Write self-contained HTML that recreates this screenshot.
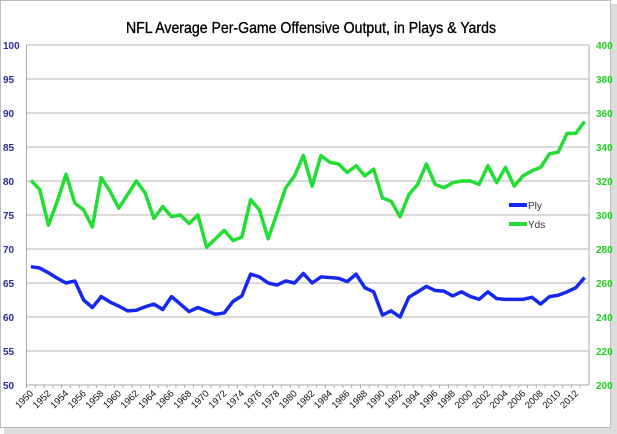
<!DOCTYPE html>
<html><head><meta charset="utf-8"><style>
body{margin:0;background:#fff;}
svg{display:block;font-family:"Liberation Sans",sans-serif;}
</style></head><body>
<svg id="chart" width="617" height="434" viewBox="0 0 617 434" xmlns="http://www.w3.org/2000/svg">
<rect x="0.5" y="0.5" width="610" height="427" fill="#fff" stroke="#bbb"/>
<rect x="611" y="4" width="6" height="428" fill="#ddd"/>
<rect x="4" y="428" width="613" height="6" fill="#ddd"/>
<text x="311" y="33" text-anchor="middle" font-size="16" textLength="370" lengthAdjust="spacingAndGlyphs" fill="#000" stroke="#000" stroke-width="0.35">NFL Average Per-Game Offensive Output, in Plays &amp; Yards</text>
<g id="grid"></g><g id="axes"></g><g id="lines"></g>
<g>
<line x1="509" y1="205" x2="527" y2="205" stroke="#1428f0" stroke-width="4"/>
<text x="528" y="209" font-size="10" fill="#333">Ply</text>
<line x1="509" y1="224" x2="527" y2="224" stroke="#22dd33" stroke-width="4"/>
<text x="528" y="228" font-size="10" fill="#333">Yds</text>
</g>
</svg>
<script>
const years = [];
for (let y = 1950; y <= 2013; y++) years.push(y);
const ply = [67.4,67.2,66.5,65.7,65.0,65.3,62.5,61.4,63.0,62.2,61.6,60.9,61.0,61.5,61.9,61.1,63.0,61.9,60.8,61.4,60.9,60.4,60.6,62.3,63.1,66.3,65.9,65.0,64.7,65.3,65.0,66.4,65.0,65.9,65.8,65.7,65.2,66.3,64.3,63.7,60.3,60.9,60.0,62.9,63.7,64.5,63.9,63.8,63.1,63.7,63.0,62.6,63.7,62.7,62.6,62.6,62.6,62.9,61.9,63.0,63.2,63.7,64.3,65.8];
const yds = [320.5,315,294,308,324,307,303,293,322,314,304,312,320,313,298,305,299,300,295,300,281,286,291,285,287,309,303,286,301,316,323,335,317,335,331,330,325,329,323,327,310,308,299,312,318,330,318,316,319,320,320,318,329,319,328,317,323,326,328,336,337,348,348,355];
const leftTicks = [50,55,60,65,70,75,80,85,90,95,100];
const rightTicks = [200,220,240,260,280,300,320,340,360,380,400];
const X0=26.5, X1=589, YT=45, YB=385;
const NS="http://www.w3.org/2000/svg";
const xScale = i => X0 + (i+0.5)*(X1-X0)/years.length;
const yL = v => YB - (v-50)/50*(YB-YT);
const yR = v => YB - (v-200)/200*(YB-YT);
function mk(tag, attrs, parent){const e=document.createElementNS(NS,tag);for(const k in attrs)e.setAttribute(k,attrs[k]);parent.appendChild(e);return e;}
const grid=document.getElementById('grid'), axes=document.getElementById('axes'), lines=document.getElementById('lines');
leftTicks.forEach(t=>{
  const y=yL(t);
  if(t>50){const g=mk('line',{x1:X0,x2:X1,y1:y,y2:y,stroke:'#c4c4c4','stroke-width':1.3},grid);
  
  }
  const tx=mk('text',{x:3,y:y+4,'font-size':10,'font-weight':'bold',fill:'#2a2aa0'},axes);
  tx.textContent=t;
  
  
});
rightTicks.forEach(t=>{
  const y=yR(t);
  const tx=mk('text',{x:596,y:y+4,'font-size':10,'font-weight':'bold',fill:'#22cc22'},axes);
  tx.textContent=t;
  
  
});
mk('line',{x1:X0,x2:X0,y1:YT,y2:YB,stroke:'#aaa'},axes);
mk('line',{x1:X1,x2:X1,y1:YT,y2:YB,stroke:'#aaa'},axes);
mk('line',{x1:X0,x2:X1,y1:YB,y2:YB,stroke:'#aaa'},axes);
years.forEach((yr,i)=>{
  const x=X0+i*(X1-X0)/years.length;
  mk('line',{x1:x,x2:x,y1:YB,y2:YB+3,stroke:'#aaa'},axes);
  if(i%2===0){
    const cx=xScale(i)+3;
    const tx=mk('text',{x:cx,y:YB+9,'font-size':9.5,fill:'#111','text-anchor':'end',transform:`rotate(-45 ${cx} ${YB+9})`},axes);
    tx.textContent=yr;
    
    
  }
});
const yp=mk('polyline',{points:yds.map((v,i)=>xScale(i)+','+yR(v)).join(' '),fill:'none',stroke:'#22dd33','stroke-width':3.5,'stroke-linejoin':'round'},lines);


const pp=mk('polyline',{points:ply.map((v,i)=>xScale(i)+','+yL(v)).join(' '),fill:'none',stroke:'#1428f0','stroke-width':3.5,'stroke-linejoin':'round'},lines);


</script>
</body></html>
